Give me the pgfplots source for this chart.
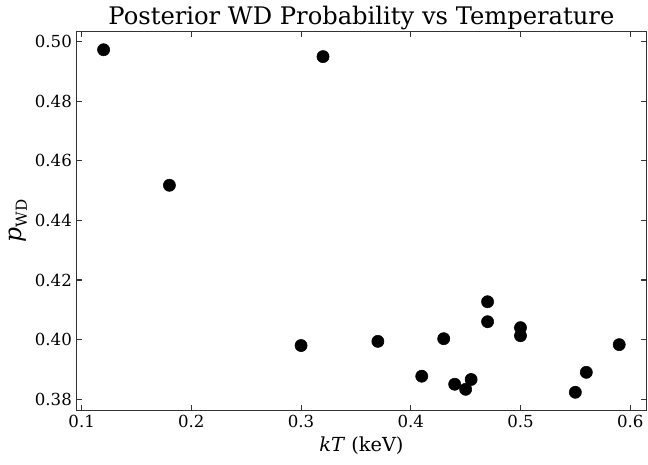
\documentclass[border={3pt 4pt 0pt 1pt}]{standalone}
\usepackage{fontspec}
\setmainfont{DejaVu Serif}
\usepackage{pgfplots}
\pgfplotsset{compat=1.18}
\begin{document}
\begin{tikzpicture}
\begin{axis}[
    scale only axis,
    width=411.8pt,
    height=273.6pt,
    xmin=0.0955, xmax=0.6145,
    ymin=0.3763, ymax=0.5033,
    xtick={0.1,0.2,0.3,0.4,0.5,0.6},
    ytick={0.38,0.40,0.42,0.44,0.46,0.48,0.50},
    xticklabel style={/pgf/number format/fixed,/pgf/number format/precision=1},
    yticklabel style={/pgf/number format/fixed,/pgf/number format/fixed zerofill,/pgf/number format/precision=2},
    /pgf/number format/assume math mode=true,
    tick align=inside,
    major tick length=3.5pt,
    tick style={black!80, line width=0.8pt},
    axis line style={black!80, line width=0.8pt},
    ticklabel style={font=\fontsize{12}{14}\selectfont},
    xlabel={\textit{kT} (keV)},
    ylabel={\textit{p}\raisebox{-0.45ex}{\fontsize{11}{12}\selectfont WD}},
    xlabel style={font=\fontsize{14}{16}\selectfont, yshift=0pt},
    ylabel style={font=\fontsize{17}{18}\selectfont, yshift=-1pt},
    title={Posterior WD Probability vs Temperature},
    title style={font=\fontsize{17.5}{19}\selectfont, yshift=-8pt},
]
\addplot[only marks, mark=*, mark size=4.4pt, black] coordinates {
    (0.12, 0.4973)
    (0.18, 0.4518)
    (0.32, 0.4950)
    (0.30, 0.3980)
    (0.37, 0.3994)
    (0.41, 0.3877)
    (0.43, 0.4003)
    (0.44, 0.3850)
    (0.45, 0.3833)
    (0.455, 0.3866)
    (0.47, 0.4127)
    (0.47, 0.4060)
    (0.50, 0.4040)
    (0.50, 0.4013)
    (0.55, 0.3823)
    (0.56, 0.3890)
    (0.59, 0.3983)
};
\end{axis}
\end{tikzpicture}
\end{document}
